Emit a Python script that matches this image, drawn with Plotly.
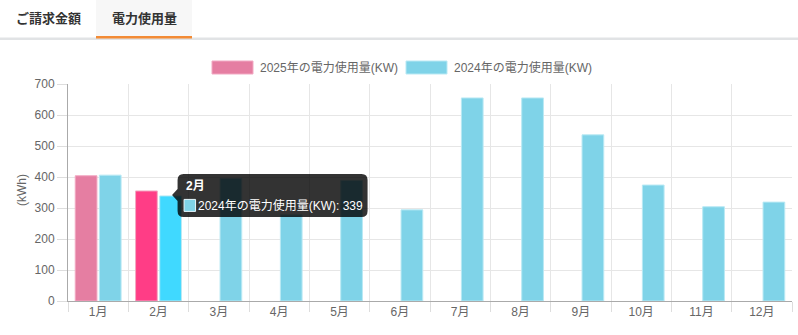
import plotly.graph_objects as go

# Monthly electricity usage (kWh)
months = ["1月", "2月", "3月", "4月", "5月", "6月", "7月", "8月", "9月", "10月", "11月", "12月"]
usage_2025 = [404, 355, None, None, None, None, None, None, None, None, None, None]
usage_2024 = [406, 339, 396, 278, 389, 294, 655, 655, 536, 374, 304, 319]
name_2025 = "2025年の電力使用量(KW)"
name_2024 = "2024年の電力使用量(KW)"
tab_labels = ["ご請求金額", "電力使用量"]
y_ticks = [0, 100, 200, 300, 400, 500, 600, 700]
active_month = "2月"

FONT = "Liberation Sans, Arial, Noto Sans CJK JP, sans-serif"
PINK, PINK_HOVER, PINK_EDGE = "#e57ea2", "#ff3d86", "#f2a9c3"
CYAN, CYAN_HOVER, CYAN_EDGE = "#7fd3e8", "#40d9ff", "#b9e9f4"

W_PX, H_PX = 798, 335
L, R, T, B = 68, 792, 84, 301  # plot area in pixels


def px_x(p):
    return (p - L) / (R - L)


def px_y(p):
    return (B - p) / (B - T)


active_idx = months.index(active_month)
colors_2025 = [PINK_HOVER if i == active_idx else PINK for i in range(len(months))]
colors_2024 = [CYAN_HOVER if i == active_idx else CYAN for i in range(len(months))]

fig = go.Figure()
fig.add_bar(x=months, y=usage_2025, name=name_2025,
            marker=dict(color=colors_2025, line=dict(color=PINK_EDGE, width=1)))
fig.add_bar(x=months, y=usage_2024, name=name_2024,
            marker=dict(color=colors_2024, line=dict(color=CYAN_EDGE, width=1)))

shapes = []
annotations = []

# Tab strip
shapes.append(dict(type="rect", xref="paper", yref="paper", layer="below",
                   x0=px_x(96), x1=px_x(192), y0=px_y(0), y1=px_y(37),
                   fillcolor="#f7f7f7", line=dict(width=0)))
shapes.append(dict(type="rect", xref="paper", yref="paper",
                   x0=px_x(0), x1=px_x(798), y0=px_y(37.5), y1=px_y(40),
                   fillcolor="#e1e3e5", line=dict(width=0)))
shapes.append(dict(type="rect", xref="paper", yref="paper",
                   x0=px_x(96), x1=px_x(192), y0=px_y(36), y1=px_y(38.5),
                   fillcolor="#f38b35", line=dict(width=0)))
for label, cx in zip(tab_labels, [48, 144]):
    annotations.append(dict(xref="paper", yref="paper", x=px_x(cx), y=px_y(18.5),
                            text=f"<b>{label}</b>", showarrow=False,
                            xanchor="center", yanchor="middle",
                            font=dict(family=FONT, size=13, color="#333333")))

# Legend
for name, fill, edge, bx in [(name_2025, PINK, PINK_EDGE, 212), (name_2024, CYAN, CYAN_EDGE, 406)]:
    shapes.append(dict(type="rect", xref="paper", yref="paper",
                       x0=px_x(bx), x1=px_x(bx + 41), y0=px_y(61), y1=px_y(74),
                       fillcolor=fill, line=dict(color=edge, width=1)))
    annotations.append(dict(xref="paper", yref="paper", x=px_x(bx + 46), y=px_y(67.5),
                            text=name, showarrow=False, xanchor="left", yanchor="middle",
                            font=dict(family=FONT, size=12, color="#666666")))

# Tooltip for the active month, anchored at the top of the 2024 bar
ax = active_idx + 0.2
ay = usage_2024[active_idx]
x0, x1, y_top, y_bot, r = 7, 197, 22, -21, 6
tip_path = (f"M 1.5,1 L {x0},7 L {x0},{y_top - r} Q {x0},{y_top} {x0 + r},{y_top} "
            f"L {x1 - r},{y_top} Q {x1},{y_top} {x1},{y_top - r} "
            f"L {x1},{y_bot + r} Q {x1},{y_bot} {x1 - r},{y_bot} "
            f"L {x0 + r},{y_bot} Q {x0},{y_bot} {x0},{y_bot + r} L {x0},-5 Z")
shapes.append(dict(type="path", xref="x", yref="y", xsizemode="pixel", ysizemode="pixel",
                   xanchor=ax, yanchor=ay, path=tip_path,
                   fillcolor="rgba(0,0,0,0.8)", line=dict(width=0)))
shapes.append(dict(type="rect", xref="x", yref="y", xsizemode="pixel", ysizemode="pixel",
                   xanchor=ax, yanchor=ay, x0=13.5, x1=25, y0=-15.5, y1=-3.5,
                   fillcolor=CYAN, line=dict(color="#e6f7fc", width=1)))
annotations.append(dict(xref="x", yref="y", x=ax, y=ay, xshift=13, yshift=10,
                        text=f"<b>{active_month}</b>", showarrow=False,
                        xanchor="left", yanchor="middle",
                        font=dict(family=FONT, size=12, color="#ffffff")))
annotations.append(dict(xref="x", yref="y", x=ax, y=ay, xshift=25.5, yshift=-9.5,
                        text=f"{name_2024}: {usage_2024[active_idx]}", showarrow=False,
                        xanchor="left", yanchor="middle",
                        font=dict(family=FONT, size=12, color="#ffffff")))

# y-axis title
annotations.append(dict(xref="paper", yref="paper", x=px_x(22), y=px_y(190),
                        text="(kWh)", showarrow=False, textangle=-90,
                        xanchor="center", yanchor="middle",
                        font=dict(family=FONT, size=12, color="#666666")))

fig.update_layout(
    width=W_PX, height=H_PX,
    margin=dict(l=L, r=W_PX - R, t=T, b=H_PX - B),
    paper_bgcolor="white", plot_bgcolor="white",
    barmode="group", bargap=0.2, bargroupgap=0.1,
    showlegend=False,
    font=dict(family=FONT, size=12, color="#666666"),
    shapes=shapes, annotations=annotations,
    xaxis=dict(type="category", range=[-0.5, len(months) - 0.5],
               tickson="boundaries", ticks="outside", ticklen=10, tickcolor="#dddddd",
               showgrid=True, gridcolor="#e6e6e6", gridwidth=1,
               showline=True, linecolor="#aaaaaa", linewidth=1,
               tickfont=dict(family=FONT, size=12, color="#666666")),
    yaxis=dict(range=[0, 700], tickvals=y_ticks, ticks="outside", ticklen=10,
               tickcolor="#dddddd", showgrid=True, gridcolor="#e6e6e6", gridwidth=1,
               zeroline=False, showline=True, linecolor="#aaaaaa", linewidth=1,
               tickfont=dict(family=FONT, size=12, color="#666666")),
)

fig.write_html("out.html")
